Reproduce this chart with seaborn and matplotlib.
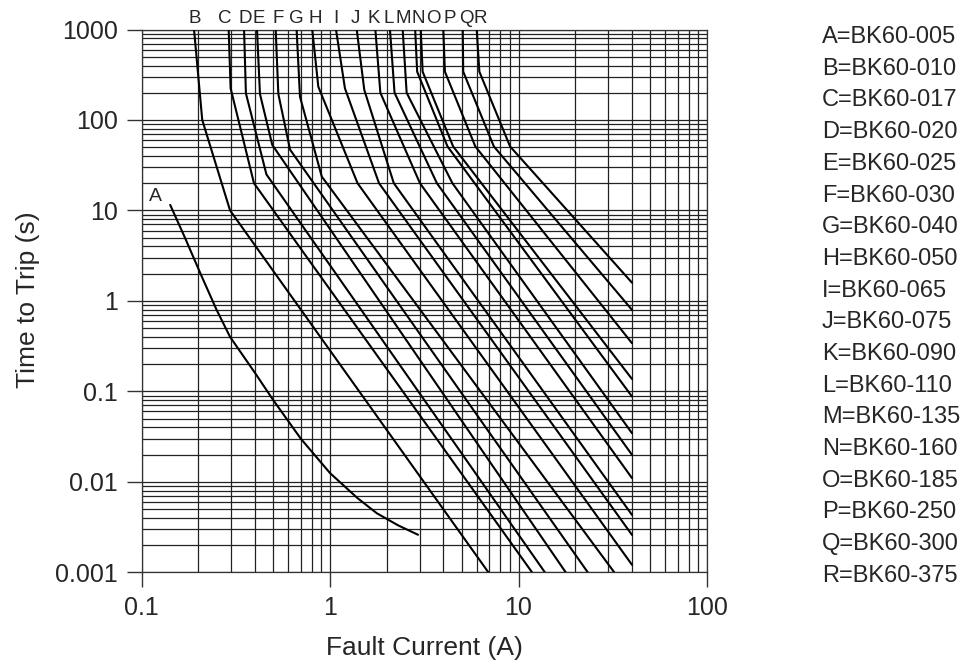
import matplotlib
matplotlib.use("Agg")
import matplotlib.pyplot as plt
import seaborn as sns
import pandas as pd
from matplotlib.ticker import FixedLocator, NullFormatter, LogLocator

# ---------------- data ----------------
curve_labels = list("ABCDEFGHIJKLMNOPQR")
legend_texts = ["A=BK60-005", "B=BK60-010", "C=BK60-017", "D=BK60-020", "E=BK60-025",
                "F=BK60-030", "G=BK60-040", "H=BK60-050", "I=BK60-065", "J=BK60-075",
                "K=BK60-090", "L=BK60-110", "M=BK60-135", "N=BK60-160", "O=BK60-185",
                "P=BK60-250", "Q=BK60-300", "R=BK60-375"]

curve_A_current = [0.142, 0.17, 0.209, 0.25, 0.295, 0.40, 0.50, 0.70, 1.0, 1.4, 1.77, 2.3, 2.93]
curve_A_time = [11.5, 5.0, 1.85, 0.80, 0.40, 0.16, 0.08, 0.03, 0.0125, 0.0066, 0.0045, 0.0033, 0.0026]
curve_B_current = [0.19, 0.21, 0.295, 6.92]
curve_B_time = [1000, 100, 10, 0.001]
curve_C_current = [0.29, 0.297, 0.395, 11.8]
curve_C_time = [1000, 224, 20, 0.001]
curve_D_current = [0.35, 0.358, 0.46, 13.8]
curve_D_time = [1000, 197, 25, 0.001]
curve_E_current = [0.41, 0.425, 0.494, 17.8]
curve_E_time = [1000, 194, 53, 0.001]
curve_F_current = [0.515, 0.532, 0.614, 23.3]
curve_F_time = [1000, 194, 47, 0.001]
curve_G_current = [0.665, 0.693, 0.904, 32.2]
curve_G_time = [1000, 181, 23.7, 0.001]
curve_H_current = [0.805, 0.867, 1.40, 40]
curve_H_time = [1000, 233, 20, 0.00121]
curve_I_current = [1.076, 1.20, 1.82, 40]
curve_I_time = [1000, 224, 20, 0.00259]
curve_J_current = [1.386, 1.52, 2.18, 40]
curve_J_time = [1000, 215, 20, 0.00431]
curve_K_current = [1.74, 1.85, 3.0, 40]
curve_K_time = [1000, 200, 20, 0.011]
curve_L_current = [2.08, 2.2, 3.69, 40]
curve_L_time = [1000, 200, 20, 0.0199]
curve_M_current = [2.43, 2.55, 4.46, 40]
curve_M_time = [1000, 200, 20, 0.0345]
curve_N_current = [2.83, 2.9, 4.2, 40]
curve_N_time = [1000, 342, 51, 0.0877]
curve_O_current = [3.03, 3.10, 4.5, 40]
curve_O_time = [1000, 342, 51, 0.137]
curve_P_current = [3.99, 4.07, 5.9, 40]
curve_P_time = [1000, 342, 51, 0.341]
curve_Q_current = [5.06, 5.09, 7.4, 40]
curve_Q_time = [1000, 342, 51, 0.796]
curve_R_current = [6.0, 6.2, 9.02, 40]
curve_R_time = [1000, 342, 51, 1.59]

x_ticks = [0.1, 1, 10, 100]
x_tick_labels = ["0.1", "1", "10", "100"]
y_ticks = [0.001, 0.01, 0.1, 1, 10, 100, 1000]
y_tick_labels = ["0.001", "0.01", "0.1", "1", "10", "100", "1000"]

# layout: where the curve letters sit along the top edge (current axis)
top_letter_current = [0.192, 0.277, 0.354, 0.420, 0.530, 0.660, 0.831, 1.078, 1.359,
                      1.716, 2.046, 2.44, 2.95, 3.54, 4.30, 5.28, 6.27]

# ---------------- figure ----------------
sns.set_theme(style="white")
plt.rcParams['font.family'] = ['Liberation Sans', 'DejaVu Sans']

fig = plt.figure(figsize=(9.76, 6.65), dpi=100)
ax = fig.add_axes([141.5 / 976, 1 - 572.3 / 665, (707 - 141.5) / 976, (572.3 - 29.5) / 665])

curves = {
    "A": (curve_A_current, curve_A_time), "B": (curve_B_current, curve_B_time),
    "C": (curve_C_current, curve_C_time), "D": (curve_D_current, curve_D_time),
    "E": (curve_E_current, curve_E_time), "F": (curve_F_current, curve_F_time),
    "G": (curve_G_current, curve_G_time), "H": (curve_H_current, curve_H_time),
    "I": (curve_I_current, curve_I_time), "J": (curve_J_current, curve_J_time),
    "K": (curve_K_current, curve_K_time), "L": (curve_L_current, curve_L_time),
    "M": (curve_M_current, curve_M_time), "N": (curve_N_current, curve_N_time),
    "O": (curve_O_current, curve_O_time), "P": (curve_P_current, curve_P_time),
    "Q": (curve_Q_current, curve_Q_time), "R": (curve_R_current, curve_R_time),
}

ax.set_xscale("log")
ax.set_yscale("log")
for lab in curve_labels:
    xs, ys = curves[lab]
    df = pd.DataFrame({"current": xs, "time": ys})
    sns.lineplot(data=df, x="current", y="time", ax=ax, sort=False, estimator=None,
                 color="black", linewidth=1.5, zorder=3)

ax.set_xlim(0.1, 100)
ax.set_ylim(0.001, 1000)

ax.xaxis.set_major_locator(FixedLocator(x_ticks))
ax.set_xticklabels(x_tick_labels)
ax.yaxis.set_major_locator(FixedLocator(y_ticks))
ax.set_yticklabels(y_tick_labels)
ax.xaxis.set_minor_locator(LogLocator(base=10, subs=range(2, 10)))
ax.yaxis.set_minor_locator(LogLocator(base=10, subs=range(2, 10)))
ax.xaxis.set_minor_formatter(NullFormatter())
ax.yaxis.set_minor_formatter(NullFormatter())

ax.grid(which="both", color="#222222", linewidth=0.9)
ax.tick_params(which="major", direction="out", length=11, width=1.0, color="#333333",
               labelsize=18, pad=6, left=True, bottom=True)
ax.tick_params(which="minor", length=0)
for sp in ax.spines.values():
    sp.set_color("#333333")
    sp.set_linewidth(0.9)

ax.set_xlabel("")
ax.set_ylabel("")
fig.text(424.5 / 976, 1 - 648 / 665, "Fault Current (A)", ha="center", va="center", fontsize=19)
fig.text(28 / 976, 1 - 300 / 665, "Time to Trip (s)", ha="center", va="center",
         fontsize=19, rotation=90)

# curve letters above the plot
for lab, xc in zip(curve_labels[1:], top_letter_current):
    ax.annotate(lab, xy=(xc, 1000), xytext=(0, 2), textcoords="offset points",
                ha="center", va="bottom", fontsize=13.5, annotation_clip=False)
ax.text(0.1187, 11.5, "A", ha="center", va="bottom", fontsize=14)

# right-hand key
for i, t in enumerate(legend_texts):
    fig.text(822 / 976, 1 - (37 + i * 31.7) / 665, t, ha="left", va="center", fontsize=17)

fig.savefig("out.png", dpi=100)
